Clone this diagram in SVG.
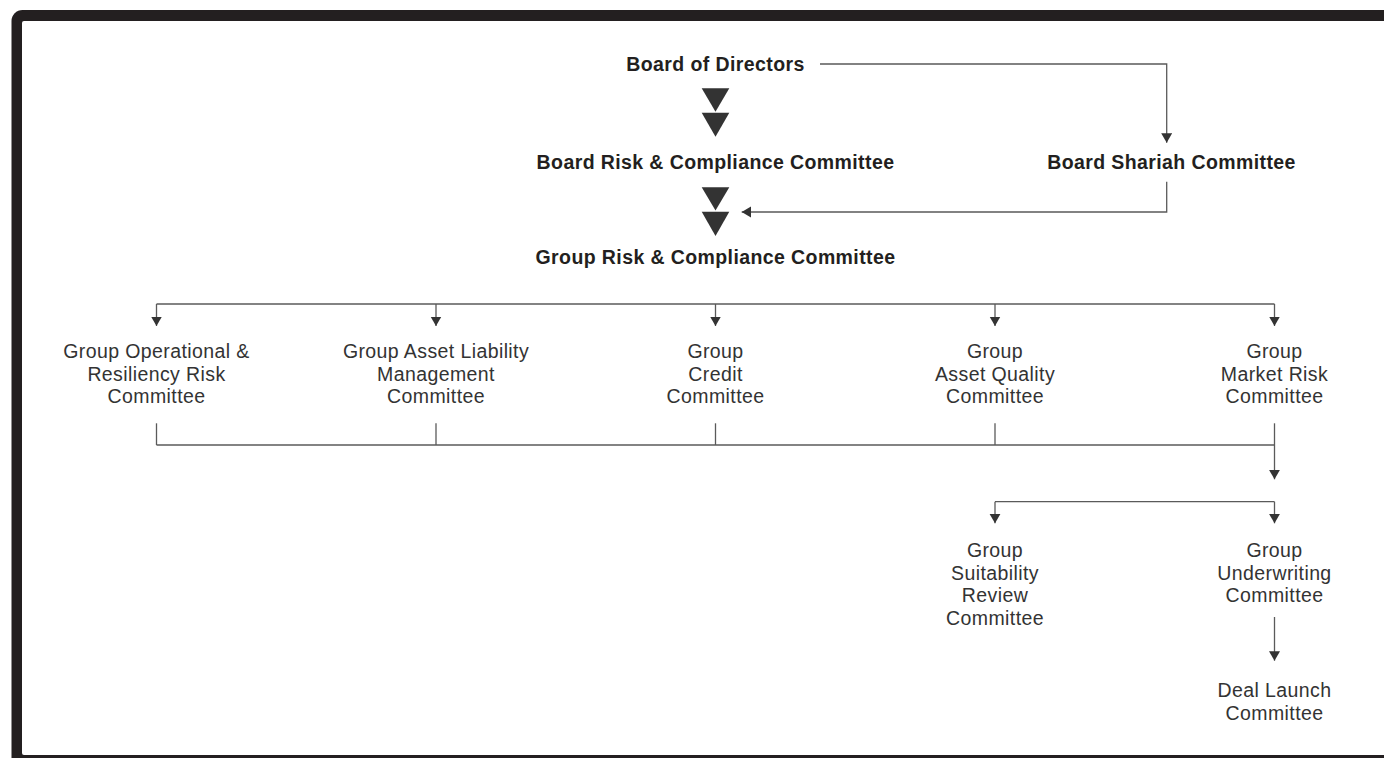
<svg xmlns="http://www.w3.org/2000/svg" width="1384" height="758" viewBox="0 0 1384 758">
  <style>
    .b { font-family: "Liberation Sans", Arial, sans-serif; font-weight: bold; font-size: 19.5px; letter-spacing: 0.4px; fill: #231f20; text-anchor: middle; }
    .r { font-family: "Liberation Sans", Arial, sans-serif; font-size: 19.5px; letter-spacing: 0.4px; fill: #333333; text-anchor: middle; }
    .ln { fill: none; stroke: #5a5a5a; stroke-width: 1.3; }
    .big { fill: #333333; }
  </style>
  <defs>
    <marker id="ah" markerUnits="userSpaceOnUse" markerWidth="11" markerHeight="12" refX="9.5" refY="5.5" orient="auto">
      <path d="M0,0 L9.5,5.5 L0,11 z" fill="#333333"/>
    </marker>
  </defs>

  <!-- frame -->
  <rect x="11.5" y="10" width="1420" height="760" rx="11" fill="#231f20"/>
  <rect x="22" y="21" width="1400" height="734" rx="2" fill="#ffffff"/>

  <!-- connectors -->
  <g id="connectors">
    <polyline class="ln" points="820,64 1166.7,64 1166.7,142.7" marker-end="url(#ah)"/>
    <polyline class="ln" points="1166.7,181.7 1166.7,212 741.7,212" marker-end="url(#ah)"/>
    <polygon class="big" points="701.7,88.3 729.3,88.3 715.5,111.7"/>
    <polygon class="big" points="701.7,112.7 729.3,112.7 715.5,136.7"/>
    <polygon class="big" points="701.7,187.3 729.3,187.3 715.5,210.5"/>
    <polygon class="big" points="701.7,211.7 729.3,211.7 715.5,236"/>

    <line class="ln" x1="156.5" y1="304" x2="1274.5" y2="304"/>
    <line class="ln" x1="156.5" y1="304" x2="156.5" y2="326" marker-end="url(#ah)"/>
    <line class="ln" x1="436" y1="304" x2="436" y2="326" marker-end="url(#ah)"/>
    <line class="ln" x1="715.5" y1="304" x2="715.5" y2="326" marker-end="url(#ah)"/>
    <line class="ln" x1="995" y1="304" x2="995" y2="326" marker-end="url(#ah)"/>
    <line class="ln" x1="1274.5" y1="304" x2="1274.5" y2="326" marker-end="url(#ah)"/>

    <line class="ln" x1="156.5" y1="445" x2="1274.5" y2="445"/>
    <line class="ln" x1="156.5" y1="423.3" x2="156.5" y2="445"/>
    <line class="ln" x1="436" y1="423.3" x2="436" y2="445"/>
    <line class="ln" x1="715.5" y1="423.3" x2="715.5" y2="445"/>
    <line class="ln" x1="995" y1="423.3" x2="995" y2="445"/>
    <line class="ln" x1="1274.5" y1="423.3" x2="1274.5" y2="479.3" marker-end="url(#ah)"/>

    <line class="ln" x1="995" y1="501.7" x2="1274.5" y2="501.7"/>
    <line class="ln" x1="995" y1="501.7" x2="995" y2="523.3" marker-end="url(#ah)"/>
    <line class="ln" x1="1274.5" y1="501.7" x2="1274.5" y2="523.3" marker-end="url(#ah)"/>

    <line class="ln" x1="1274.5" y1="617" x2="1274.5" y2="660.7" marker-end="url(#ah)"/>
  </g>

  <g id="board-of-directors"><text class="b" x="715.5" y="70.5">Board of Directors</text></g>
  <g id="board-risk"><text class="b" x="715.5" y="169.3">Board Risk &amp; Compliance Committee</text></g>
  <g id="board-shariah"><text class="b" x="1171.5" y="169.3">Board Shariah Committee</text></g>
  <g id="group-risk"><text class="b" x="715.5" y="264">Group Risk &amp; Compliance Committee</text></g>

  <g id="group-operational">
    <text class="r" x="156.5" y="358.3">Group Operational &amp;</text>
    <text class="r" x="156.5" y="380.8">Resiliency Risk</text>
    <text class="r" x="156.5" y="403.3">Committee</text>
  </g>
  <g id="group-alm">
    <text class="r" x="436" y="358.3">Group Asset Liability</text>
    <text class="r" x="436" y="380.8">Management</text>
    <text class="r" x="436" y="403.3">Committee</text>
  </g>
  <g id="group-credit">
    <text class="r" x="715.5" y="358.3">Group</text>
    <text class="r" x="715.5" y="380.8">Credit</text>
    <text class="r" x="715.5" y="403.3">Committee</text>
  </g>
  <g id="group-asset-quality">
    <text class="r" x="995" y="358.3">Group</text>
    <text class="r" x="995" y="380.8">Asset Quality</text>
    <text class="r" x="995" y="403.3">Committee</text>
  </g>
  <g id="group-market-risk">
    <text class="r" x="1274.5" y="358.3">Group</text>
    <text class="r" x="1274.5" y="380.8">Market Risk</text>
    <text class="r" x="1274.5" y="403.3">Committee</text>
  </g>
  <g id="group-suitability">
    <text class="r" x="995" y="556.7">Group</text>
    <text class="r" x="995" y="579.5">Suitability</text>
    <text class="r" x="995" y="602.3">Review</text>
    <text class="r" x="995" y="625">Committee</text>
  </g>
  <g id="group-underwriting">
    <text class="r" x="1274.5" y="556.7">Group</text>
    <text class="r" x="1274.5" y="579.5">Underwriting</text>
    <text class="r" x="1274.5" y="602.3">Committee</text>
  </g>
  <g id="deal-launch">
    <text class="r" x="1274.5" y="697.3">Deal Launch</text>
    <text class="r" x="1274.5" y="719.5">Committee</text>
  </g>
</svg>
